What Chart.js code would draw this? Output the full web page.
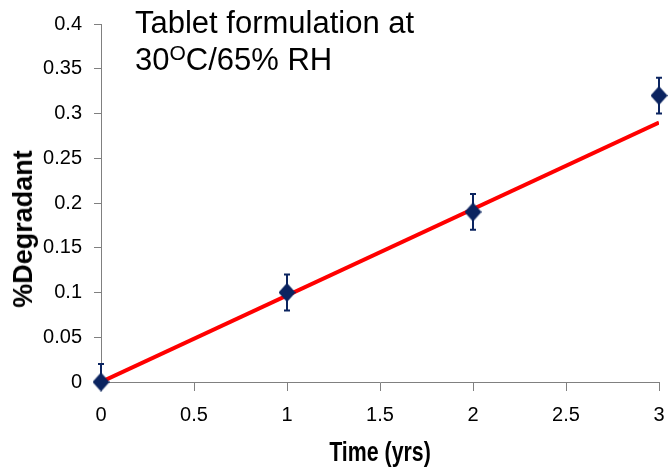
<!DOCTYPE html>
<html>
<head>
<meta charset="utf-8">
<script src="https://cdn.jsdelivr.net/npm/chart.js@4"></script>
<style>
  html, body { margin: 0; padding: 0; background: #fff; }
  #wrap { position: relative; width: 669px; height: 469px; overflow: hidden; }
  #title {
    position: absolute; left: 135px; top: 4px;
    font-family: "Liberation Sans", Arial, sans-serif;
    font-size: 31px; line-height: 37px; color: #000; white-space: nowrap;
  }
  #title sup { font-size: 21px; line-height: 0; vertical-align: 10px; }
  #ytitle {
    position: absolute; left: 23px; top: 229px;
    transform: translate(-50%, -50%) rotate(-90deg);
    font-family: "Liberation Sans", Arial, sans-serif;
    font-weight: bold; font-size: 27px; line-height: 30px; color: #000; white-space: nowrap;
  }
  #xtitle {
    position: absolute; left: 380px; top: 452px;
    transform: translate(-50%, -50%) scaleX(0.79);
    font-family: "Liberation Sans", Arial, sans-serif;
    font-weight: bold; font-size: 27px; line-height: 30px; color: #000; white-space: nowrap;
  }
</style>
</head>
<body>
<div id="wrap">
  <canvas id="c" width="669" height="469"></canvas>
  <div id="title">Tablet formulation at<br>30<sup>O</sup>C/65% RH</div>
  <div id="ytitle">%Degradant</div>
  <div id="xtitle">Time (yrs)</div>
</div>
<script>
// ---- data ----
const timeYears   = [0, 1, 2, 3];
const degradant   = [0, 0.10, 0.19, 0.32];
const errorAmount = [0.02, 0.02, 0.02, 0.02];
const trendX      = [0, 3];
const trendY      = [0, 0.29];
const xTickLabels = ['0', '0.5', '1', '1.5', '2', '2.5', '3'];
const yTickLabels = ['0', '0.05', '0.1', '0.15', '0.2', '0.25', '0.3', '0.35', '0.4'];

const NAVY = '#0b2460';
const AXIS = '#808080';
const FONT = '"Liberation Sans", Arial, sans-serif';

// diamond marker
const diamond = document.createElement('canvas');
diamond.width = 17; diamond.height = 19;
(function () {
  const g = diamond.getContext('2d');
  g.fillStyle = NAVY;
  g.beginPath();
  g.moveTo(8.5, 0); g.lineTo(17, 9.5); g.lineTo(8.5, 19); g.lineTo(0, 9.5);
  g.closePath(); g.fill();
})();

const errorBars = {
  id: 'errorBars',
  beforeDatasetDraw(chart, args) {
    if (args.index !== 0) return;
    const { ctx, chartArea, scales } = chart;
    ctx.save();
    ctx.beginPath();
    ctx.rect(chartArea.left - 10, chartArea.top, chartArea.right - chartArea.left + 20, chartArea.bottom - chartArea.top);
    ctx.clip();
    ctx.strokeStyle = NAVY;
    ctx.lineWidth = 2;
    timeYears.forEach((t, i) => {
      const x = scales.x.getPixelForValue(t);
      const yTop = scales.y.getPixelForValue(degradant[i] + errorAmount[i]);
      const yBot = scales.y.getPixelForValue(degradant[i] - errorAmount[i]);
      ctx.beginPath();
      ctx.moveTo(x, yTop); ctx.lineTo(x, yBot);
      ctx.moveTo(x - 3, yTop); ctx.lineTo(x + 3, yTop);
      ctx.moveTo(x - 3, yBot); ctx.lineTo(x + 3, yBot);
      ctx.stroke();
    });
    ctx.restore();
  }
};

new Chart(document.getElementById('c'), {
  type: 'scatter',
  data: {
    datasets: [
      {
        label: 'Measured',
        data: timeYears.map((t, i) => ({ x: t, y: degradant[i] })),
        pointStyle: diamond,
        pointRadius: 9,
        showLine: false,
        clip: false
      },
      {
        label: 'Trend',
        data: trendX.map((t, i) => ({ x: t, y: trendY[i] })),
        showLine: true,
        borderColor: '#ff0000',
        borderWidth: 4,
        pointRadius: 0,
        fill: false
      }
    ]
  },
  options: {
    responsive: false,
    animation: false,
    events: [],
    layout: { padding: { top: 22, right: 10, left: 0, bottom: 0 } },
    plugins: { legend: { display: false }, tooltip: { enabled: false } },
    scales: {
      x: {
        type: 'linear', min: 0, max: 3,
        afterFit(s) { s.height = 87; s.paddingRight = 0; s.paddingLeft = 0; },
        grid: { drawOnChartArea: false, drawTicks: true, tickLength: 9, color: AXIS, lineWidth: 1 },
        border: { display: true, color: AXIS, width: 1 },
        ticks: {
          stepSize: 0.5, padding: 12, color: '#000',
          font: { family: FONT, size: 20 },
          maxRotation: 0,
          callback: (v, i) => xTickLabels[i]
        },
        title: { display: false }
      },
      y: {
        type: 'linear', min: 0, max: 0.4,
        afterFit(s) { s.width = 101; },
        grid: { drawOnChartArea: false, drawTicks: true, tickLength: 7, color: AXIS, lineWidth: 1 },
        border: { display: true, color: AXIS, width: 1 },
        ticks: {
          stepSize: 0.05, padding: 12, color: '#000',
          font: { family: FONT, size: 20 },
          callback: (v, i) => yTickLabels[i]
        },
        title: { display: false }
      }
    }
  },
  plugins: [errorBars]
});
</script>
</body>
</html>
